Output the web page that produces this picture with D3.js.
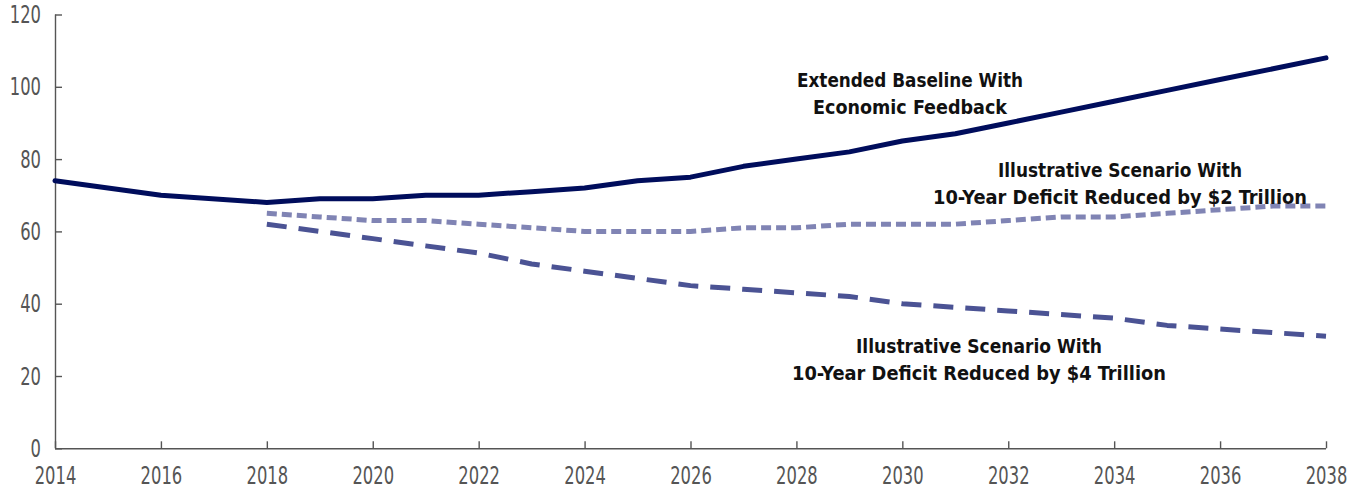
<!DOCTYPE html>
<html lang="en">
<head>
    <meta charset="UTF-8">
    <title>debt projections</title>
    <script src="https://d3js.org/d3.v7.min.js"></script>
    <style>
        body { margin: 0; background: #fff; }
        svg text { font-family: "Liberation Sans Narrow", "DejaVu Sans Condensed", sans-serif; }
    </style>
</head>
<body>
    <svg id="chart" width="1361" height="490"></svg>

    <script>
        // data
        const baselineYears = d3.range(2014, 2039).filter(y => y !== 2015 && y !== 2017);
        const baselineValues = [74, 70, 68, 69, 69, 70, 70, 71, 72, 74, 75, 78, 80, 82, 85, 87, 90, 93, 96, 99, 102, 105, 108];

        const scenarioYears = d3.range(2018, 2039);
        const cut2Values = [65, 64, 63, 63, 62, 61, 60, 60, 60, 61, 61, 62, 62, 62, 63, 64, 64, 65, 66, 67, 67];
        const cut4Values = [62, 60, 58, 56, 54, 51, 49, 47, 45, 44, 43, 42, 40, 39, 38, 37, 36, 34, 33, 32, 31];

        const xTicks = d3.range(2014, 2039, 2);
        const yTicks = [0, 20, 40, 60, 80, 100, 120];

        const svg = d3.select("#chart");
        const margin = { top: 14.5, left: 55, right: 35, bottom: 41.7 };
        const width = +svg.attr("width");
        const height = +svg.attr("height");

        const x = d3.scaleLinear().domain([2014, 2038]).range([margin.left, width - margin.right]);
        const y = d3.scaleLinear().domain([0, 120]).range([height - margin.bottom, margin.top]);

        // y axis
        const yAxis = svg.append("g")
            .attr("transform", `translate(${margin.left},0)`)
            .call(d3.axisRight(y).tickValues(yTicks).tickSize(7).tickFormat(d3.format("d")));
        yAxis.select(".domain").attr("d", `M0.5,${y(120)}V${y(0)}`);
        yAxis.selectAll("text").attr("x", -14).attr("text-anchor", "end").attr("dy", "0.34em");

        // x axis
        const xAxis = svg.append("g")
            .attr("transform", `translate(0,${y(0)})`)
            .call(d3.axisTop(x).tickValues(xTicks).tickSize(7).tickFormat(d3.format("d")));
        xAxis.select(".domain").attr("d", `M${margin.left},0.5H${x(2038)}`);
        xAxis.selectAll("text").attr("y", 36).attr("dy", 0);

        svg.selectAll(".domain, .tick line").attr("stroke", "#555").attr("stroke-width", 1.4);
        // narrow digits like the original condensed face
        svg.selectAll(".tick text")
            .attr("fill", "#555")
            .style("font-size", "24px")
            .attr("lengthAdjust", "spacingAndGlyphs")
            .attr("textLength", function () { return this.textContent.length * 10.4; });

        const line = d3.line().x(d => x(d[0])).y(d => y(d[1]));

        const series = [
            { years: baselineYears, values: baselineValues, color: "#000d5c", dash: null },
            { years: scenarioYears, values: cut2Values, color: "#8084b4", dash: "10,5" },
            { years: scenarioYears, values: cut4Values, color: "#4b5394", dash: "20,12" }
        ];

        svg.selectAll("path.series").data(series)
            .join("path")
            .attr("class", "series")
            .attr("fill", "none")
            .attr("stroke", d => d.color)
            .attr("stroke-width", 5)
            .attr("stroke-linejoin", "round")
            .attr("stroke-linecap", d => d.dash ? "butt" : "round")
            .attr("stroke-dasharray", d => d.dash)
            .attr("d", d => line(d.years.map((yr, i) => [yr, d.values[i]])));

        const labels = [
            { x: 910, y: 87, lines: ["Extended Baseline With", "Economic Feedback"], widths: [226, 194] },
            { x: 1120, y: 177, lines: ["Illustrative Scenario With", "10-Year Deficit Reduced by $2 Trillion"], widths: [244, 374] },
            { x: 979, y: 353, lines: ["Illustrative Scenario With", "10-Year Deficit Reduced by $4 Trillion"], widths: [246, 374] }
        ];

        labels.forEach(l => {
            const t = svg.append("text")
                .attr("x", l.x)
                .attr("y", l.y)
                .attr("text-anchor", "middle")
                .style("font-size", "20px")
                .style("font-weight", "bold")
                .attr("fill", "#111");
            l.lines.forEach((s, i) => {
                t.append("tspan")
                    .attr("x", l.x)
                    .attr("dy", i === 0 ? 0 : 26.5)
                    .attr("textLength", l.widths[i])
                    .attr("lengthAdjust", "spacingAndGlyphs")
                    .text(s);
            });
        });
    </script>
</body>
</html>
